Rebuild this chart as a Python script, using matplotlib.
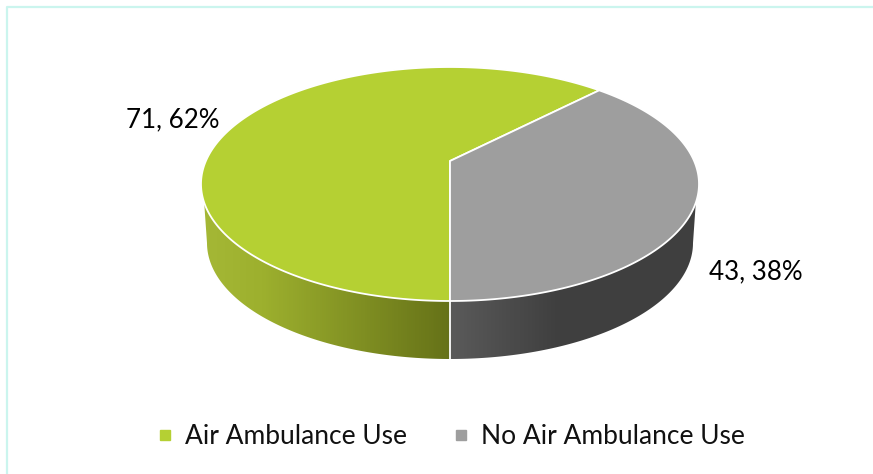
import numpy as np
import matplotlib
matplotlib.use("Agg")
import matplotlib.pyplot as plt
from matplotlib.colors import LinearSegmentedColormap
from matplotlib.lines import Line2D
from matplotlib.patches import Polygon

labels = ["Air Ambulance Use", "No Air Ambulance Use"]
values = [71, 43]
colors = ["#B5D033", "#9E9E9E"]

plt.rcParams["font.family"] = ["Lato", "DejaVu Sans"]

W, H = 873, 474
fig = plt.figure(figsize=(W / 100, H / 100), dpi=100)
ax = fig.add_axes([0, 0, 1, 1])
ax.set_xlim(0, W)
ax.set_ylim(H, 0)
ax.axis("off")

# pie geometry in pixels, the apex sits above the ellipse centre (perspective)
cx, cy, rx, ry = 450, 184, 249, 117
apex_y = 161
top_y, bot_y = cy - ry, cy + ry

# projective map from the flat circle to the tilted top face
p = (2 * apex_y - top_y - bot_y) / (top_y - bot_y)
a = (top_y * (1 + p) - bot_y * (1 - p)) / 2
c = rx * np.sqrt(1 - p * p)


def project(theta):
    # theta is clockwise from the bottom of the pie
    u = -np.sin(theta)
    v = -np.cos(theta)
    x = cx + c * u / (1 + p * v)
    y = (apex_y + a * v) / (1 + p * v)
    return x, y


fractions = np.array(values) / sum(values)
edges = np.concatenate([[0], np.cumsum(fractions)]) * 2 * np.pi

# side wall, top ellipse lower arc + smaller bottom ellipse
t = np.linspace(0.16, np.pi - 0.16, 200)
top_arc = np.column_stack([cx + rx * np.cos(t), cy + ry * np.sin(t)])
t2 = np.linspace(0, np.pi, 200)
bot_arc = np.column_stack([cx + 243 * np.cos(t2), 243 + 116 * np.sin(t2)])
wall = Polygon(np.vstack([top_arc, bot_arc[::-1]]), closed=True, fc="none", ec="none")
ax.add_patch(wall)

wall_cmap = LinearSegmentedColormap.from_list(
    "wall",
    [(0.0, "#A5B836"), (0.12, "#9DB02E"), (0.4979, "#667218"),
     (0.5021, "#5A5A5A"), (0.72, "#3F3F3F"), (1.0, "#3F3F3F")],
)
grad = np.linspace(0, 1, 498).reshape(1, -1)
img = ax.imshow(grad, cmap=wall_cmap, extent=[cx - rx, cx + rx, 360, 190],
                aspect="auto", zorder=1)
img.set_clip_path(wall)
ax.set_xlim(0, W)
ax.set_ylim(H, 0)
ax.plot([cx, cx], [bot_y, 359], color="white", lw=1.3, zorder=2)

# top face
for i in range(len(values)):
    th = np.linspace(edges[i], edges[i + 1], 300)
    xs, ys = project(th)
    pts = np.column_stack([np.r_[cx, xs], np.r_[apex_y, ys]])
    ax.add_patch(Polygon(pts, closed=True, fc=colors[i], ec="white", lw=1.3,
                         joinstyle="round", zorder=3))

# data labels
ax.text(172.5, 120, f"{values[0]}, {round(fractions[0] * 100)}%", fontsize=18.7,
        ha="center", va="center", color="black", zorder=4)
ax.text(755.5, 272, f"{values[1]}, {round(fractions[1] * 100)}%", fontsize=18.7,
        ha="center", va="center", color="black", zorder=4)

# legend
handles = [Line2D([], [], ls="none", marker="s", ms=7, color=col) for col in colors]
ax.legend(handles, labels, loc="center", bbox_to_anchor=(451, 437),
          bbox_transform=ax.transData, ncol=2, frameon=False, fontsize=19,
          handlelength=0.6, handletextpad=0.45, columnspacing=1.75,
          labelcolor="#111111")

# chart frame
ax.plot([7, 7, W], [H, 7, 7], color="#CBF5EE", lw=1.6, zorder=0)

fig.savefig("out.png", dpi=100)
